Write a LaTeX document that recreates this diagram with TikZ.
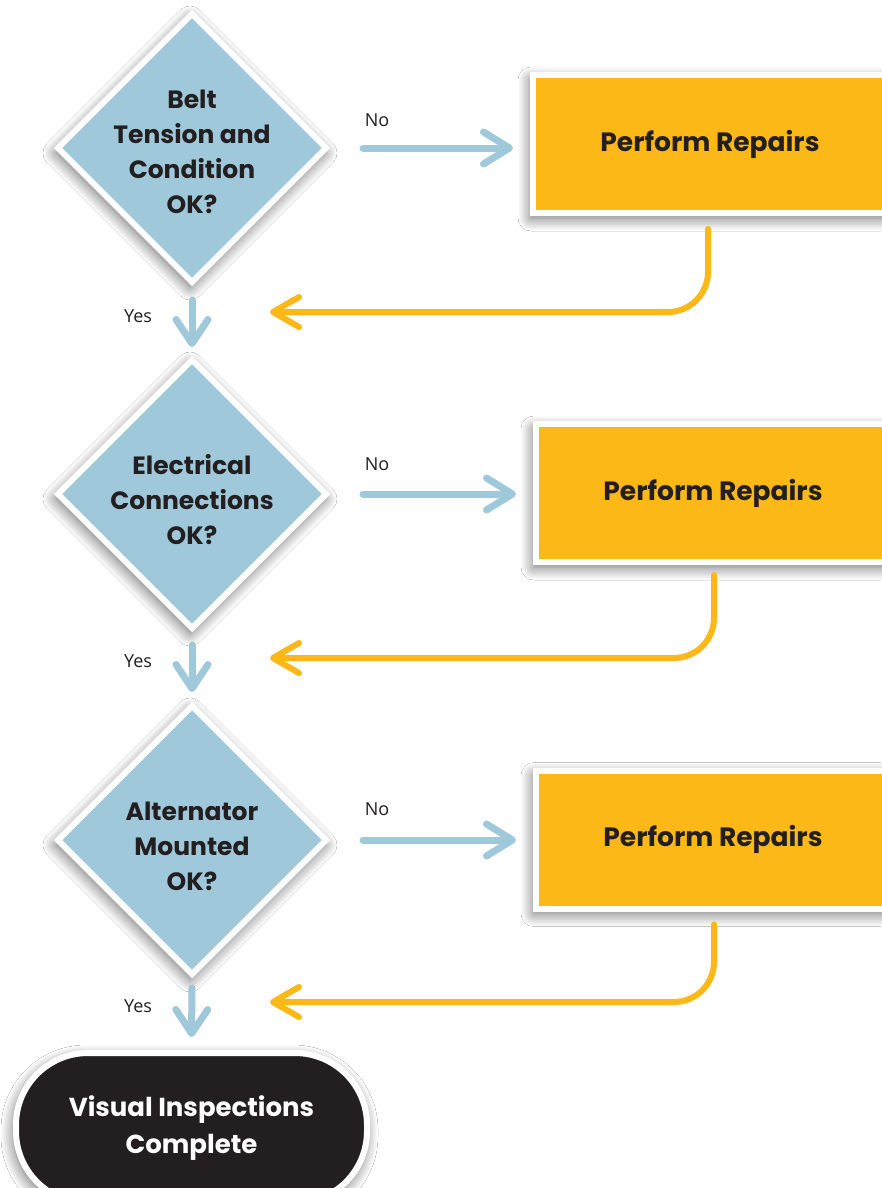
\documentclass[tikz,border=0pt]{standalone}
\usepackage{fontspec}
\newfontfamily\pop{Poppins}
\newfontfamily\lblfont{Open Sans}
\usetikzlibrary{shapes.geometric,arrows.meta,shadows.blur}
\definecolor{dblue}{HTML}{9FC8DA}
\definecolor{dorange}{HTML}{FBB817}
\definecolor{dink}{HTML}{231F20}
\begin{document}
\begin{tikzpicture}[x=1pt,y=-1pt,
  shadowed/.style={blur shadow={shadow blur radius=13pt,shadow xshift=-2pt,shadow yshift=-5pt,shadow opacity=60,shadow blur steps=24}},
  decision/.style={diamond, aspect=1, minimum width=268pt, minimum height=268pt, inner sep=0pt, outer sep=0pt,
    fill=dblue, draw=white, line width=6pt, shadowed},
  dtext/.style={font=\pop\bfseries\fontsize{25}{35}\selectfont, text=dink, align=center, inner sep=0pt},
  repair/.style={rectangle, minimum width=354pt, minimum height=138pt, inner sep=0pt, outer sep=0pt,
    fill=dorange, draw=white, line width=6pt, shadowed, font=\pop\bfseries\fontsize{26.5}{34}\selectfont, text=dink},
  terminal/.style={rectangle, rounded corners=72pt, minimum width=351pt, minimum height=150pt, inner sep=0pt, outer sep=0pt,
    fill=dink, draw=white, line width=6pt, shadowed, font=\pop\bfseries\fontsize{26}{37}\selectfont, text=white, align=center},
  lbl/.style={font=\lblfont\fontsize{18}{20}\selectfont, text=dink, inner sep=0pt},
  noarr/.style={draw=dblue, line width=7pt, line cap=round, -{Straight Barb[length=26pt,width=32pt,round]}},
  yesarr/.style={draw=dblue, line width=7pt, line cap=round, -{Straight Barb[length=24pt,width=32pt,round]}},
  retarr/.style={draw=dorange, line width=6pt, line cap=round, rounded corners=40pt, -{Straight Barb[length=26pt,width=30pt,round]}}
]
\useasboundingbox (0,0) rectangle (881,1188);
\fill[white] (0,0) rectangle (881,1188);

% decisions
\node[decision] (d1) at (192,148) {};
\node[dtext] (t1) at (192,152) {Belt\\Tension and\\Condition\\OK?};
\node[decision] (d2) at (192,494) {};
\node[dtext] (t2) at (192,500) {Electrical\\Connections\\OK?};
\node[decision] (d3) at (192,840) {};
\node[dtext] (t3) at (192,846) {Alternator\\Mounted\\OK?};

% repair boxes
\node[repair] (b1) at (710,144) {Perform Repairs};
\node[repair] (b2) at (713,493) {Perform Repairs};
\node[repair] (b3) at (713,839.5) {Perform Repairs};

% terminal
\node[terminal] (end) at (191.5,1128) {Visual Inspections\\Complete};

% No arrows
\draw[noarr, shorten <=37pt, shorten >=20pt] (d1.east) -- (d1.east -| b1.west);
\draw[noarr, shorten <=37pt, shorten >=20pt] (d2.east) -- (d2.east -| b2.west);
\draw[noarr, shorten <=37pt, shorten >=20pt] (d3.east) -- (d3.east -| b3.west);
\node[lbl] (n1) at (377,120) {No};
\node[lbl] (n2) at (377,464) {No};
\node[lbl] (n3) at (377,809) {No};

% Yes arrows
\draw[yesarr, shorten <=18pt, shorten >=13pt] (d1.south) -- (d2.north);
\draw[yesarr, shorten <=17pt, shorten >=14pt] (d2.south) -- (d3.north);
\draw[yesarr, shorten <=14pt, shorten >=16pt] (d3.south) -- (end.north);
\node[lbl] (y1) at (138,316) {Yes};
\node[lbl] (y2) at (138,661) {Yes};
\node[lbl] (y3) at (138,1006) {Yes};

% return arrows
\coordinate (m1) at (270,312);
\coordinate (m2) at (270,658);
\coordinate (m3) at (270,1002);
\coordinate (c1) at (708,0);
\coordinate (c2) at (714,0);
\coordinate (c3) at (714,0);
\draw[retarr, shorten <=16pt] (b1.south -| c1) |- (m1);
\draw[retarr, shorten <=13pt] (b2.south -| c2) |- (m2);
\draw[retarr, shorten <=16pt] (b3.south -| c3) |- (m3);
\end{tikzpicture}
\end{document}
